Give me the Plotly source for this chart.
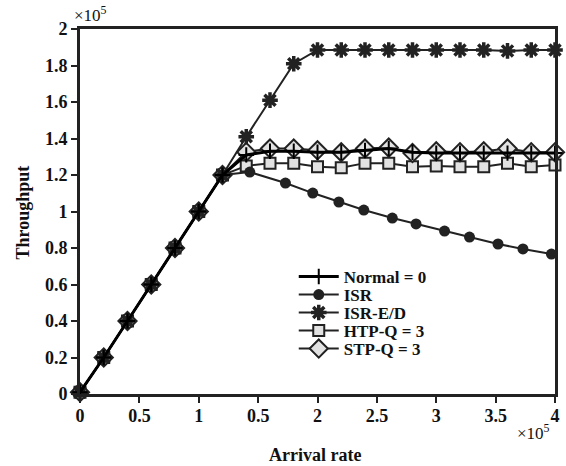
import plotly.graph_objects as go

# ---- data (arrival rate in units of 1e5, throughput in units of 1e5) ----
lin_x = [0, 0.2, 0.4, 0.6, 0.8, 1.0, 1.2]
lin_y = [0.01, 0.2, 0.4, 0.6, 0.8, 1.0, 1.2]

normal_x = lin_x + [1.4, 1.6, 1.8, 2.0, 2.2, 2.4, 2.6, 2.8, 3.0, 3.2, 3.4, 3.6, 3.8, 4.0]
normal_y = lin_y + [1.31, 1.33, 1.33, 1.325, 1.325, 1.335, 1.345, 1.325, 1.32, 1.32, 1.32, 1.32, 1.32, 1.32]

isr_x = lin_x + [1.43, 1.73, 1.96, 2.18, 2.39, 2.63, 2.83, 3.07, 3.28, 3.52, 3.73, 3.97]
isr_y = lin_y + [1.216, 1.156, 1.101, 1.052, 1.008, 0.964, 0.932, 0.893, 0.860, 0.822, 0.795, 0.767]

ised_x = lin_x + [1.4, 1.6, 1.8, 2.0, 2.2, 2.4, 2.6, 2.8, 3.0, 3.2, 3.4, 3.6, 3.8, 4.0]
ised_y = lin_y + [1.41, 1.61, 1.81, 1.885, 1.885, 1.885, 1.885, 1.885, 1.885, 1.885, 1.885, 1.88, 1.885, 1.885]

htp_x = lin_x + [1.4, 1.6, 1.8, 2.0, 2.2, 2.4, 2.6, 2.8, 3.0, 3.2, 3.4, 3.6, 3.8, 4.0]
htp_y = lin_y + [1.25, 1.265, 1.265, 1.245, 1.24, 1.265, 1.265, 1.245, 1.25, 1.245, 1.245, 1.265, 1.245, 1.255]

stp_x = lin_x + [1.4, 1.6, 1.8, 2.0, 2.2, 2.4, 2.6, 2.8, 3.0, 3.2, 3.4, 3.6, 3.8, 4.0]
stp_y = lin_y + [1.326, 1.345, 1.345, 1.335, 1.325, 1.345, 1.35, 1.32, 1.33, 1.325, 1.33, 1.345, 1.325, 1.325]

x_tickvals = [0, 0.5, 1, 1.5, 2, 2.5, 3, 3.5, 4]
x_ticktext = ["0", "0.5", "1", "0.5", "2", "2.5", "3", "3.5", "4"]
y_tickvals = [0, 0.2, 0.4, 0.6, 0.8, 1, 1.2, 1.4, 1.6, 1.8, 2]
y_ticktext = ["0", "0.2", "0.4", "0.6", "0.8", "1", "1.2", "1.4", "1.6", "1.8", "2"]

DARK = "#222222"
FILL = "#e2e2e2"
TXT = "#111111"
SERIF = "Liberation Serif, Times New Roman, serif"

fig = go.Figure()

fig.add_trace(go.Scatter(
    x=htp_x, y=htp_y, name="HTP-Q = 3", mode="lines+markers", legend="legend4",
    line=dict(color=DARK, width=2),
    marker=dict(symbol="square", size=11, color=FILL, line=dict(color=DARK, width=2)),
    cliponaxis=False))
fig.add_trace(go.Scatter(
    x=stp_x, y=stp_y, name="STP-Q = 3", mode="lines+markers", legend="legend5",
    line=dict(color=DARK, width=2),
    marker=dict(symbol="diamond", size=14, color=FILL, line=dict(color=DARK, width=2)),
    cliponaxis=False))
fig.add_trace(go.Scatter(
    x=isr_x, y=isr_y, name="ISR", mode="lines+markers", legend="legend2",
    line=dict(color=DARK, width=2),
    marker=dict(symbol="circle", size=11, color=DARK),
    cliponaxis=False))
fig.add_trace(go.Scatter(
    x=ised_x, y=ised_y, name="ISR-E/D", mode="lines+markers", legend="legend3",
    line=dict(color=DARK, width=2),
    marker=dict(symbol="asterisk-open", size=13, color=DARK, line=dict(color=DARK, width=3.5)),
    cliponaxis=False))
fig.add_trace(go.Scatter(
    x=normal_x, y=normal_y, name="Normal = 0", mode="lines+markers", legend="legend",
    line=dict(color="#000000", width=3),
    marker=dict(symbol="cross-thin-open", size=11, color="#000000", line=dict(color="#000000", width=2)),
    cliponaxis=False))

axis_common = dict(
    showline=True, linecolor=DARK, linewidth=3, mirror=True,
    ticks="outside", ticklen=6, tickwidth=2, tickcolor=DARK,
    showgrid=False, zeroline=False,
    tickfont=dict(family=SERIF, size=18, color=TXT, weight="bold"),
)

fig.update_xaxes(range=[0, 4], tickvals=x_tickvals, ticktext=x_ticktext,
                 ticklabelstandoff=-3, **axis_common)
fig.update_yaxes(range=[0, 2], tickvals=y_tickvals, ticktext=y_ticktext, **axis_common)

# one native legend per entry so the rows can sit 18 px apart, as in the reference
leg_font = dict(family=SERIF, size=17, color=TXT, weight="bold")
leg_y0 = 0.3205
leg_dy = 18 / 365
legends = {}
for i, key in enumerate(["legend", "legend2", "legend3", "legend4", "legend5"]):
    legends[key] = dict(
        x=0.45, y=leg_y0 - i * leg_dy, xanchor="left", yanchor="middle",
        bgcolor="rgba(0,0,0,0)", borderwidth=0, font=leg_font,
        itemwidth=40, tracegroupgap=0,
    )

fig.update_layout(
    width=566, height=466,
    margin=dict(l=80, r=6, t=29, b=72),
    paper_bgcolor="white", plot_bgcolor="white",
    showlegend=True,
    **legends,
    annotations=[
        dict(text="×10<sup>5</sup>", xref="paper", yref="paper", x=-0.017, y=1.04,
             xanchor="left", yanchor="middle", showarrow=False,
             font=dict(family=SERIF, size=17, color=TXT)),
        dict(text="×10<sup>5</sup>", xref="paper", yref="paper", x=0.994, y=-0.103,
             xanchor="right", yanchor="middle", showarrow=False,
             font=dict(family=SERIF, size=17, color=TXT)),
        dict(text="Arrival rate", xref="paper", yref="paper", x=0.495, y=-0.167,
             xanchor="center", yanchor="middle", showarrow=False,
             font=dict(family=SERIF, size=18, color=TXT, weight="bold")),
        dict(text="Throughput", xref="paper", yref="paper", x=-0.121, y=0.496,
             xanchor="center", yanchor="middle", showarrow=False, textangle=-90,
             font=dict(family=SERIF, size=18, color=TXT, weight="bold")),
    ],
)

fig.write_html("out.html")
